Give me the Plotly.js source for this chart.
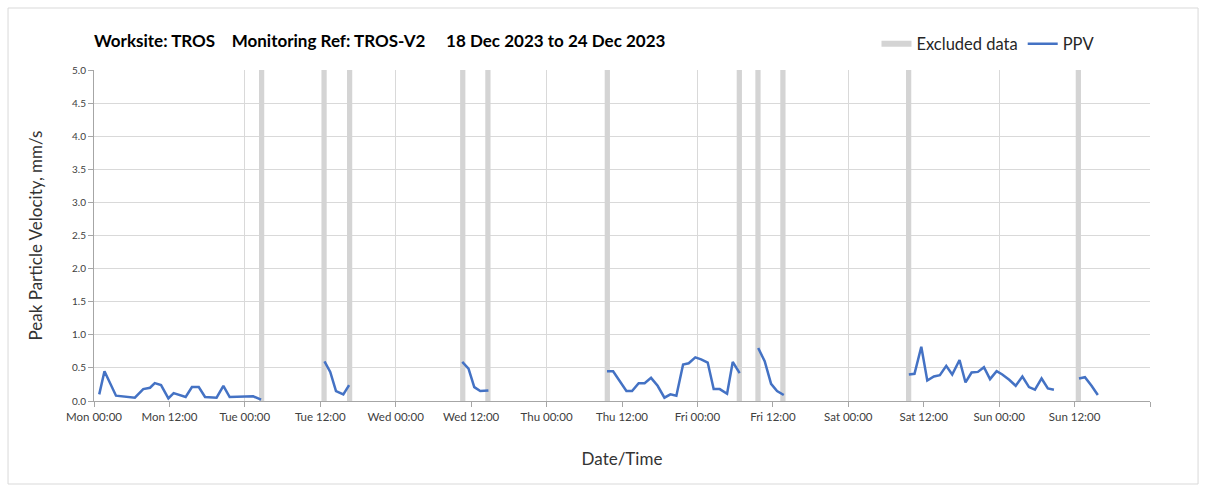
<!DOCTYPE html>
<html><head><meta charset="utf-8">
<script src="https://cdn.plot.ly/plotly-3.0.1.min.js"></script>
<style>html,body{margin:0;padding:0;background:#fff}#chart{width:1207px;height:493px}</style>
</head><body><div id="chart"></div>
<script>
const ppvTimes = [
  "2023-12-18 00:50","2023-12-18 01:40","2023-12-18 03:30","2023-12-18 04:55","2023-12-18 06:30",
  "2023-12-18 07:50","2023-12-18 08:55","2023-12-18 09:40","2023-12-18 10:40","2023-12-18 11:50",
  "2023-12-18 12:40","2023-12-18 14:35","2023-12-18 15:35","2023-12-18 16:40","2023-12-18 17:40",
  "2023-12-18 19:30","2023-12-18 20:35","2023-12-18 21:35","2023-12-18 23:25","2023-12-19 01:20",
  "2023-12-19 02:35", null,
  "2023-12-19 12:40","2023-12-19 13:35","2023-12-19 14:30","2023-12-19 15:40","2023-12-19 16:35", null,
  "2023-12-20 10:35","2023-12-20 11:35","2023-12-20 12:30","2023-12-20 13:27","2023-12-20 14:45", null,
  "2023-12-21 09:37","2023-12-21 10:35","2023-12-21 12:42","2023-12-21 13:36","2023-12-21 14:39",
  "2023-12-21 15:36","2023-12-21 16:37","2023-12-21 17:40","2023-12-21 18:45","2023-12-21 19:42",
  "2023-12-21 20:39","2023-12-21 21:43","2023-12-21 22:37","2023-12-21 23:40","2023-12-22 00:35",
  "2023-12-22 01:38","2023-12-22 02:35","2023-12-22 03:33","2023-12-22 04:43","2023-12-22 05:37",
  "2023-12-22 06:43", null,
  "2023-12-22 09:40","2023-12-22 10:42","2023-12-22 11:43","2023-12-22 12:40","2023-12-22 13:44", null,
  "2023-12-23 09:38","2023-12-23 10:32","2023-12-23 11:37","2023-12-23 12:34","2023-12-23 13:37",
  "2023-12-23 14:34","2023-12-23 15:35","2023-12-23 16:32","2023-12-23 17:42","2023-12-23 18:39",
  "2023-12-23 19:37","2023-12-23 20:37","2023-12-23 21:35","2023-12-23 22:33","2023-12-23 23:36",
  "2023-12-24 00:30","2023-12-24 01:36","2023-12-24 02:38","2023-12-24 03:42","2023-12-24 04:45",
  "2023-12-24 05:42","2023-12-24 06:45","2023-12-24 07:45","2023-12-24 08:43", null,
  "2023-12-24 12:42","2023-12-24 13:39","2023-12-24 14:42","2023-12-24 15:42"
];
const ppvValues = [
  0.10,0.45,0.08,0.07,0.05,
  0.18,0.20,0.27,0.24,0.04,
  0.12,0.06,0.21,0.21,0.06,
  0.05,0.23,0.06,0.07,0.07,
  0.02, null,
  0.60,0.44,0.15,0.10,0.24, null,
  0.59,0.49,0.21,0.15,0.16, null,
  0.45,0.45,0.15,0.15,0.27,
  0.27,0.35,0.23,0.05,0.10,
  0.08,0.55,0.57,0.66,0.63,
  0.58,0.18,0.18,0.11,0.59,
  0.42, null,
  0.80,0.60,0.26,0.15,0.09, null,
  0.40,0.41,0.82,0.31,0.37,
  0.39,0.53,0.40,0.62,0.28,
  0.43,0.44,0.51,0.33,0.45,
  0.40,0.32,0.23,0.37,0.21,
  0.17,0.34,0.19,0.17, null,
  0.34,0.36,0.23,0.09
];
const excludedStart = [
  "2023-12-19 02:15","2023-12-19 12:11","2023-12-19 16:15","2023-12-20 10:15","2023-12-20 14:15",
  "2023-12-21 09:15","2023-12-22 06:15","2023-12-22 09:13","2023-12-22 13:11","2023-12-23 09:11",
  "2023-12-24 12:11"
];
const excludedEnd = [
  "2023-12-19 03:05","2023-12-19 13:01","2023-12-19 17:05","2023-12-20 11:05","2023-12-20 15:05",
  "2023-12-21 10:05","2023-12-22 07:05","2023-12-22 10:03","2023-12-22 14:01","2023-12-23 10:01",
  "2023-12-24 13:01"
];
const tickTimes = [
  "2023-12-18 00:00","2023-12-18 12:00","2023-12-19 00:00","2023-12-19 12:00","2023-12-20 00:00",
  "2023-12-20 12:00","2023-12-21 00:00","2023-12-21 12:00","2023-12-22 00:00","2023-12-22 12:00",
  "2023-12-23 00:00","2023-12-23 12:00","2023-12-24 00:00","2023-12-24 12:00","2023-12-25 00:00"
];
const tickLabels = [
  "Mon 00:00","Mon 12:00","Tue 00:00","Tue 12:00","Wed 00:00",
  "Wed 12:00","Thu 00:00","Thu 12:00","Fri 00:00","Fri 12:00",
  "Sat 00:00","Sat 12:00","Sun 00:00","Sun 12:00",""
];
const xRange = ["2023-12-18 00:00","2023-12-25 00:00"];
const yRange = [0, 5];

// build excluded-data rectangles spanning the full y range
const bandX = [], bandY = [];
for (let i = 0; i < excludedStart.length; i++) {
  bandX.push(excludedStart[i], excludedStart[i], excludedEnd[i], excludedEnd[i], excludedStart[i], null);
  bandY.push(yRange[0], yRange[1], yRange[1], yRange[0], yRange[0], null);
}

const FONT = "Lato, 'Open Sans', sans-serif";

const traces = [
  {
    x: bandX, y: bandY, type: 'scatter', mode: 'none', fill: 'toself',
    fillcolor: '#d4d4d4', name: 'Excluded data', xaxis: 'x', yaxis: 'y', hoverinfo: 'skip'
  },
  {
    x: ppvTimes, y: ppvValues, type: 'scatter', mode: 'lines', name: 'PPV',
    line: {color: '#4472C4', width: 2.5}, connectgaps: false, xaxis: 'x2', yaxis: 'y'
  }
];

const layout = {
  width: 1207, height: 493,
  margin: {l: 94, r: 57, t: 70, b: 92},
  paper_bgcolor: '#ffffff', plot_bgcolor: '#ffffff',
  font: {family: FONT, color: '#404040'},
  hovermode: false,
  title: {
    text: 'Worksite: TROS\u00a0\u00a0\u00a0 Monitoring Ref: TROS-V2\u00a0\u00a0\u00a0\u00a0 18 Dec 2023 to 24 Dec 2023',
    font: {family: FONT, size: 17, color: '#000000', weight: 'bold'},
    xref: 'paper', x: 0, xanchor: 'left',
    yref: 'container', y: 0.917, yanchor: 'middle'
  },
  showlegend: true,
  legend: {
    orientation: 'h', x: 0.741, xanchor: 'left', y: 1.0785, yanchor: 'middle',
    font: {family: FONT, size: 16.5, color: '#262626'}, itemwidth: 30, traceorder: 'normal',
    bgcolor: 'rgba(0,0,0,0)'
  },
  xaxis: {
    type: 'date', range: xRange, tickmode: 'array', tickvals: tickTimes, ticktext: tickLabels,
    showgrid: false, zeroline: false, showline: true, linecolor: '#a6a6a6', linewidth: 1,
    ticks: 'outside', ticklen: 5, tickcolor: '#a6a6a6',
    tickfont: {family: FONT, size: 11.5, color: '#404040'},
    title: {text: 'Date/Time', font: {family: FONT, size: 17, color: '#333333'}, standoff: 31},
    fixedrange: true
  },
  xaxis2: {
    type: 'date', range: xRange, overlaying: 'x', anchor: 'y',
    dtick: 86400000, tick0: '2023-12-18 00:00',
    showgrid: true, gridcolor: '#d9d9d9', gridwidth: 1,
    showticklabels: false, ticks: '', showline: false, zeroline: false, fixedrange: true
  },
  yaxis: {
    range: yRange, dtick: 0.5, tickformat: '.1f',
    showgrid: true, gridcolor: '#d9d9d9', gridwidth: 1, zeroline: false,
    showline: true, linecolor: '#a6a6a6', linewidth: 1,
    ticks: 'outside', ticklen: 5, tickcolor: '#a6a6a6',
    tickfont: {family: FONT, size: 10, color: '#404040'},
    title: {text: 'Peak Particle Velocity, mm/s', font: {family: FONT, size: 17, color: '#333333'}, standoff: 25},
    fixedrange: true
  },
  shapes: [
    {type: 'rect', xref: 'paper', yref: 'paper', x0: -0.0814, x1: 1.0455, y0: -0.2508, y1: 1.1873,
     line: {color: '#d9d9d9', width: 1}, fillcolor: 'rgba(0,0,0,0)', layer: 'below'}
  ]
};

Plotly.newPlot('chart', traces, layout, {displayModeBar: false, staticPlot: true});
</script>
</body></html>
